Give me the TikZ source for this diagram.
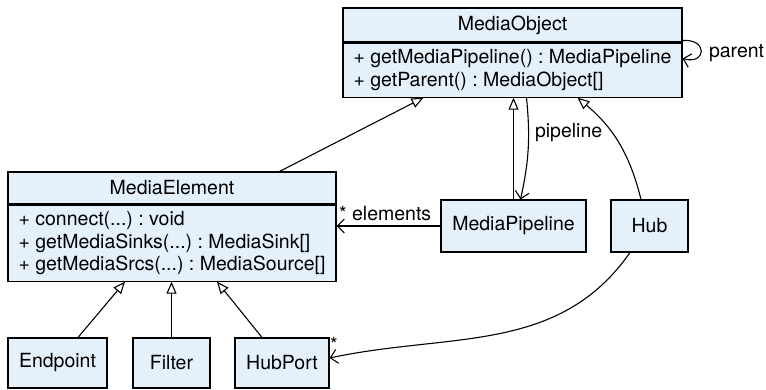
\documentclass[tikz,border=0pt]{standalone}
\usepackage{fontspec}
\setmainfont{TeX Gyre Heros}
\usetikzlibrary{arrows.meta}
\definecolor{classfill}{RGB}{228,240,250}
\frenchspacing
\begin{document}
\begin{tikzpicture}[x=1pt,y=-1pt,line width=1.1pt,
every node/.style={font=\fontsize{19.5}{22.5}\selectfont},
classbox/.style={
% The shape:
rectangle,
draw=black,
fill=classfill,
inner sep=0pt,
text centered
},
classbody/.style={
classbox,
anchor=north,
align=left
},
gen/.style={-{Triangle[open,length=12pt,width=10pt]}},
assoc/.style={-{Straight Barb[length=7pt,width=14pt]}}
]
\useasboundingbox (0,0) rectangle (766,390);
% Top class:
\node (motitle) [classbox,minimum width=339pt,minimum height=34pt] at (512.5,25) {MediaObject};
\node (mobody) [classbody,minimum width=339pt,minimum height=54pt] at (motitle.south) {+ getMediaPipeline() : MediaPipeline\\+ getParent() : MediaObject[]};
% Middle row:
\node (metitle) [classbox,minimum width=328pt,minimum height=32pt] at (172,188) {MediaElement};
\node (mebody) [classbody,minimum width=328pt,minimum height=76pt] at (metitle.south) {+ connect(...) : void\\+ getMediaSinks(...) : MediaSink[]\\+ getMediaSrcs(...) : MediaSource[]};
\node (pipe) [classbox,minimum width=145pt,minimum height=52pt] at (513.5,226) {MediaPipeline};
\node (hub) [classbox,minimum width=77pt,minimum height=52pt] at (649.5,226) {Hub};
% Bottom row:
\node (endpoint) [classbox,minimum width=99pt,minimum height=50pt] at (57.5,363) {Endpoint};
\node (filter) [classbox,minimum width=77pt,minimum height=50pt] at (171.5,363) {Filter};
\node (hubport) [classbox,minimum width=94pt,minimum height=50pt] at (282,363) {HubPort};
\path ([xshift=-57pt]metitle.north east) edge[gen] ([xshift=-89pt]mobody.south)
 (pipe.north) edge[gen] (pipe.north |- mobody.south)
 (hub.north) ++(-8.5pt,0) coordinate (hubtop) (hubtop) edge[gen,bend right=18] ([xshift=65pt]mobody.south);
\draw[assoc] ([xshift=14pt]mobody.south) to[bend left=9] node[right,xshift=3pt,yshift=16pt] {pipeline} ([xshift=7pt]pipe.north);
\draw[assoc] ([yshift=2pt]motitle.south east) to[out=5,in=-15,looseness=3.6] node[right,xshift=4pt,yshift=-2pt] {parent} ([yshift=-16pt]mobody.north east);
\draw[assoc] (pipe.west) -- (mebody.east |- pipe.west);
\node (elements) [anchor=south west,inner sep=0pt] at ([xshift=2pt,yshift=5pt]mebody.east |- pipe.west) {* elements};
\draw[assoc] ([xshift=-19.5pt]hub.south) to[out=-125,in=12] ([yshift=5pt]hubport.east);
\node (hubstar) [anchor=north west,inner sep=0pt,yshift=1pt] at (hubport.north east) {*};
% Subclasses of MediaElement:
\path ([xshift=20.5pt]endpoint.north) edge[gen] ([xshift=-47pt]mebody.south)
 (filter.north) edge[gen] (filter.north |- mebody.south)
 ([xshift=-20pt]hubport.north) edge[gen] ([xshift=45pt]mebody.south);
\end{tikzpicture}
\end{document}
